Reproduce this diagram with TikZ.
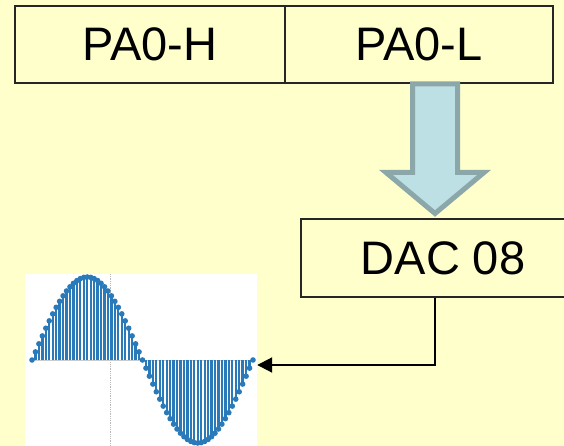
\documentclass[tikz,border=0pt]{standalone}
\usepackage{fontspec}
\setmainfont{Liberation Sans}
\usetikzlibrary{arrows.meta,calc}

\definecolor{paper}{HTML}{FFFFCC}
\definecolor{stemblue}{HTML}{2A7AB9}
\definecolor{pipefill}{HTML}{BCE0E4}
\definecolor{pipeedge}{HTML}{8CA7A9}

\begin{document}
\begin{tikzpicture}[
    x=1pt, y=-1pt,
    box/.style={
        draw=black!85,
        line width=2pt,
        fill=paper,
        minimum height=77pt,
        inner sep=0pt,
        font=\fontsize{47}{50}\selectfont
    },
    arr/.style={-{Triangle[length=15pt,width=15pt]}, line width=2pt, draw=black}
]
    \clip (0,0) rectangle (564,446);
    \fill[paper] (0,0) rectangle (564,446);

    % register PA0, split in high and low byte
    \node[box, minimum width=270pt] (pah) at (150,44.5) {PA0-H};
    \node[box, minimum width=268pt] (pal) at (419,44.5) {PA0-L};

    \coordinate (tap) at (435,0);
    \coordinate (ptop) at (pal.south -| tap);
    \coordinate (pbot) at (435,219);

    % low byte goes to the converter
    \filldraw[fill=pipefill, draw=pipeedge, line width=5pt, line join=miter]
        ($(ptop)+(-22.5,0)$) -- ($(ptop)+(22.5,0)$)
        -- ($(pbot)+(22.5,-46.5)$) -- ($(pbot)+(49,-46.5)$)
        -- ($(pbot)+(0,-5.5)$)
        -- ($(pbot)+(-49,-46.5)$) -- ($(pbot)+(-22.5,-46.5)$) -- cycle;

    \node[box, minimum width=284pt, minimum height=78pt] (dac) at (443,258) {DAC 08};

    % output waveform
    \node[fill=white, minimum width=232pt, minimum height=182pt, inner sep=0pt] (wave) at (141,365) {};
    \draw[gray!55, densely dotted, line width=0.8pt] (110,274) -- (110,446);
    \draw[gray!40, line width=1pt] (32,360) -- (253,360);
    \foreach \n in {0,...,64} {
        \pgfmathsetmacro\sx{32+\n*3.453125}
        \pgfmathsetmacro\sy{360-83*sin(\n*5.625)}
        \draw[stemblue, line width=2.3pt] (\sx,360) -- (\sx,\sy);
        \fill[stemblue] (\sx,\sy) circle (2.8pt);
    }

    \draw[arr] (dac.south -| tap) |- (wave.east);
\end{tikzpicture}
\end{document}
